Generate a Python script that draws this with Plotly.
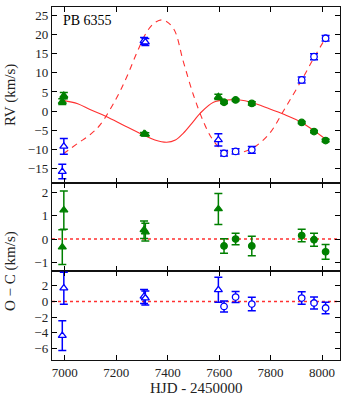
import plotly.graph_objects as go
from plotly.subplots import make_subplots

# ---- data ----
# primary (green) observations
tA_tri = [6990, 6996, 7308, 7313, 7597]
rvA_tri = [2.45, 4.05, -6.0, -6.1, 3.7]
erA_tri = [0.75, 0.83, 0.38, 0.38, 0.67]
ocA_tri = [-0.35, 1.25, 0.4, 0.3, 1.3]
tA_cir = [7619, 7664, 7727, 7921, 7969, 8014]
rvA_cir = [2.3, 2.9, 2.0, -3.0, -5.4, -7.75]
erA_cir = [0.31, 0.25, 0.42, 0.27, 0.28, 0.32]
ocA_cir = [-0.3, 0.0, -0.3, 0.15, -0.03, -0.55]

# secondary (blue) observations
tB_tri = [6990, 6996, 7308, 7313, 7597]
rvB_tri = [-15.9, -9.3, 18.4, 18.1, -7.6]
erB_tri = [1.9, 2.05, 0.9, 0.9, 1.6]
ocB_tri = [-4.37, 1.7, 0.64, 0.43, 1.49]
tB_cir = [7619, 7664, 7727, 7921, 7969, 8014]
rvB_cir = [-11.1, -10.6, -10.2, 8.15, 14.25, 19.1]
erB_cir = [0.7, 0.7, 0.87, 0.8, 0.78, 0.75]
ocB_cir = [-0.64, 0.56, -0.33, 0.43, -0.2, -0.84]

# orbit curves
t_fitA = [6993, 7050, 7100, 7163, 7230, 7305, 7350, 7396, 7430, 7461, 7500,
          7526, 7578, 7630, 7681, 7724, 7791, 7856, 7921, 7969, 8016]
rv_fitA = [2.8, 1.9, 0.3, -1.5, -3.8, -6.3, -7.6, -8.2, -7.6, -5.8, -2.7,
           -0.6, 2.3, 2.9, 2.9, 2.3, 0.7, -1.0, -3.0, -5.2, -7.5]
t_fitB = [6993, 7050, 7100, 7137, 7200, 7241, 7280, 7319, 7350, 7381, 7422,
          7461, 7500, 7539, 7571, 7604, 7642, 7680, 7724, 7791, 7856, 7921,
          7969, 8016]
rv_fitB = [-11.3, -8.5, -6.1, -3.65, 3.3, 9.0, 15.3, 20.8, 23.2, 23.9, 21.7,
           12.9, 4.2, -2.8, -7.1, -9.8, -10.9, -10.9, -10.0, -6.3, 0.7, 8.15,
           14.0, 19.4]

star_label = "PB 6355"
x_ticks = [7000, 7200, 7400, 7600, 7800, 8000]

GREEN = "#008000"
BLUE = "#0000ff"
RED = "#ff3030"
FONT = "Liberation Serif"

fig = make_subplots(rows=3, cols=1, shared_xaxes=True, vertical_spacing=0)

def err(vals, color):
    return dict(type="data", array=vals, visible=True, color=color,
                thickness=1.5, width=4)

# RV panel
fig.add_trace(go.Scatter(x=t_fitB, y=rv_fitB, mode="lines", line_shape="spline",
                         line=dict(color=RED, width=1.1, dash="6px,5px")), 1, 1)
fig.add_trace(go.Scatter(x=t_fitA, y=rv_fitA, mode="lines", line_shape="spline",
                         line=dict(color=RED, width=1.1)), 1, 1)

def pts(x, y, e, sym, color, filled, row):
    fig.add_trace(go.Scatter(
        x=x, y=y, mode="markers", error_y=err(e, color),
        marker=dict(symbol=sym, size=7 if "triangle" in sym else 6.5,
                    color=(color if filled else "white"),
                    line=dict(color=color, width=1.3))), row, 1)

pts(tB_tri, rvB_tri, erB_tri, "triangle-up", BLUE, False, 1)
pts(tB_cir, rvB_cir, erB_cir, "circle", BLUE, False, 1)
pts(tA_tri, rvA_tri, erA_tri, "triangle-up", GREEN, True, 1)
pts(tA_cir, rvA_cir, erA_cir, "circle", GREEN, True, 1)

# O-C panels
pts(tA_tri, ocA_tri, erA_tri, "triangle-up", GREEN, True, 2)
pts(tA_cir, ocA_cir, erA_cir, "circle", GREEN, True, 2)
pts(tB_tri, ocB_tri, erB_tri, "triangle-up", BLUE, False, 3)
pts(tB_cir, ocB_cir, erB_cir, "circle", BLUE, False, 3)

for r in (2, 3):
    fig.add_hline(y=0, line=dict(color=RED, width=1.5, dash="dot"),
                  row=r, col=1, layer="below")

axis_common = dict(showline=True, linecolor="#111", linewidth=1.4, mirror="allticks",
                   ticks="inside", ticklen=5, tickwidth=1, tickcolor="black",
                   showgrid=False, zeroline=False, automargin=False,
                   tickfont=dict(family=FONT, size=13, color="#222"))

for r in (1, 2, 3):
    fig.update_xaxes(range=[6950, 8070], tickvals=x_ticks, row=r, col=1, **axis_common)
fig.update_xaxes(showticklabels=False, row=1, col=1)
fig.update_xaxes(showticklabels=False, row=2, col=1)

fig.update_yaxes(range=[-18.9, 27.3], tickvals=[-15, -10, -5, 0, 5, 10, 15, 20, 25],
                 ticktext=["\u221215", "\u221210", "\u22125", "0", "5", "10", "15", "20", "25"],
                 domain=[0.5014, 1.0], row=1, col=1, **axis_common)
fig.update_yaxes(range=[-1.38, 2.42], tickvals=[-1, 0, 1, 2],
                 ticktext=["\u22121", "0", "1", "2"],
                 domain=[0.2521, 0.5014], row=2, col=1, **axis_common)
fig.update_yaxes(range=[-7.5, 3.9], tickvals=[-6, -4, -2, 0, 2],
                 ticktext=["\u22126", "\u22124", "\u22122", "0", "2"],
                 domain=[0.0, 0.2521], row=3, col=1, **axis_common)

title_font = dict(family=FONT, size=15, color="#222")
fig.add_annotation(text=star_label, xref="x domain", yref="y domain", x=0.03, y=0.975,
                   xanchor="left", yanchor="top", showarrow=False,
                   font=dict(family=FONT, size=14, color="black"), row=1, col=1)
fig.add_annotation(text="RV (km/s)", xref="paper", yref="paper",
                   x=-0.146, y=0.7507, textangle=-90, showarrow=False,
                   xanchor="center", yanchor="middle", font=title_font)
fig.add_annotation(text="O \u2212 C (km/s)", xref="paper", yref="paper",
                   x=-0.146, y=0.2521, textangle=-90, showarrow=False,
                   xanchor="center", yanchor="middle", font=title_font)
fig.add_annotation(text="HJD - 2450000", xref="paper", yref="paper",
                   x=0.5, y=-0.079, showarrow=False,
                   xanchor="center", yanchor="middle", font=title_font)

fig.update_layout(width=347, height=400, showlegend=False,
                  margin=dict(l=52, r=7, t=7, b=40),
                  plot_bgcolor="white", paper_bgcolor="white")

fig.write_html("out.html", config={"displayModeBar": False},
               post_script="document.body.style.margin='0';document.body.style.padding='0';")
